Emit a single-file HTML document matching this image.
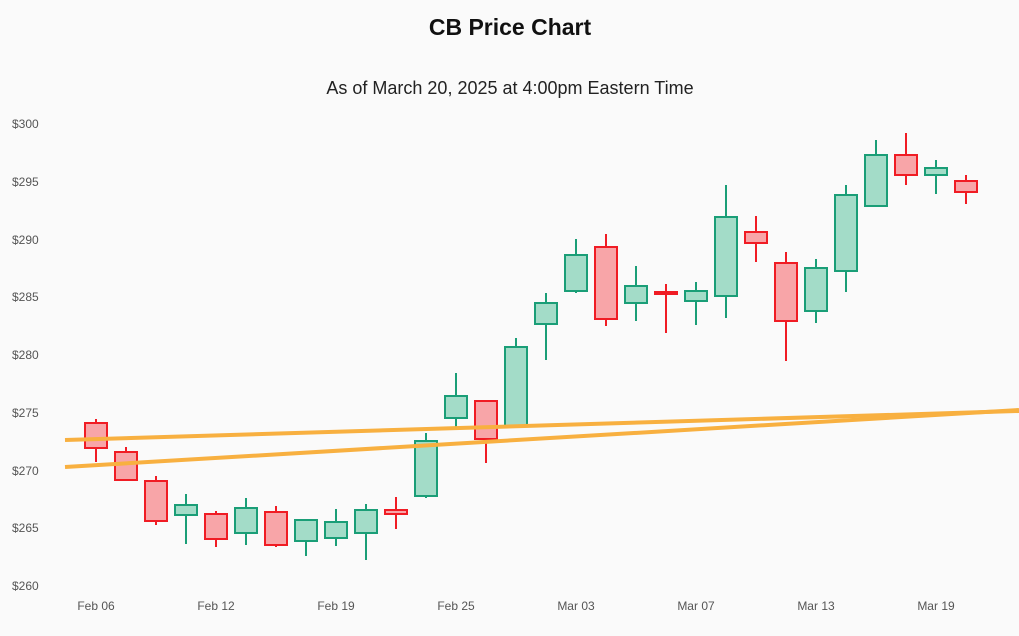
<!DOCTYPE html>
<html><head><style>
body{margin:0;background:#fafafa;}
svg{display:block;font-family:"Liberation Sans",sans-serif;}
</style></head><body>
<svg width="1019" height="636" viewBox="0 0 1019 636" xmlns="http://www.w3.org/2000/svg">
<rect width="1019" height="636" fill="#fafafa"/>
<text x="510" y="35" text-anchor="middle" font-size="23" font-weight="bold" fill="#111">CB Price Chart</text>
<text x="510" y="94" text-anchor="middle" font-size="18" fill="#222">As of March 20, 2025 at 4:00pm Eastern Time</text>
<g font-size="12" fill="#555">
<text x="12" y="128">$300</text><text x="12" y="186">$295</text><text x="12" y="244">$290</text><text x="12" y="301">$285</text><text x="12" y="359">$280</text>
<text x="12" y="417">$275</text><text x="12" y="475">$270</text><text x="12" y="532">$265</text><text x="12" y="590">$260</text>
</g>
<g font-size="12" fill="#555" text-anchor="middle">
<text x="96" y="610">Feb 06</text><text x="216" y="610">Feb 12</text><text x="336" y="610">Feb 19</text><text x="456" y="610">Feb 25</text>
<text x="576" y="610">Mar 03</text><text x="696" y="610">Mar 07</text><text x="816" y="610">Mar 13</text><text x="936" y="610">Mar 19</text>
</g>
<g stroke-width="2">
<g stroke="#f01c24" fill="#f8a5a8">
<line x1="96" x2="96" y1="419" y2="462"/><rect x="85" y="423" width="22" height="25"/>
<line x1="126" x2="126" y1="447" y2="480"/><rect x="115" y="452" width="22" height="28"/>
<line x1="156" x2="156" y1="476" y2="525"/><rect x="145" y="481" width="22" height="40"/>
<line x1="216" x2="216" y1="511" y2="547"/><rect x="205" y="514" width="22" height="25"/>
<line x1="276" x2="276" y1="506" y2="547"/><rect x="265" y="512" width="22" height="33"/>
<line x1="396" x2="396" y1="497" y2="529"/><rect x="385" y="510" width="22" height="4"/>
<line x1="486" x2="486" y1="401" y2="463"/><rect x="475" y="401" width="22" height="38"/>
<line x1="606" x2="606" y1="234" y2="326"/><rect x="595" y="247" width="22" height="72"/>
<line x1="666" x2="666" y1="284" y2="333"/><rect x="655" y="292" width="22" height="2"/>
<line x1="756" x2="756" y1="216" y2="262"/><rect x="745" y="232" width="22" height="11"/>
<line x1="786" x2="786" y1="252" y2="361"/><rect x="775" y="263" width="22" height="58"/>
<line x1="906" x2="906" y1="133" y2="185"/><rect x="895" y="155" width="22" height="20"/>
<line x1="966" x2="966" y1="175" y2="204"/><rect x="955" y="181" width="22" height="11"/>
</g>
<g stroke="#1a9e77" fill="#a3dcc8">
<line x1="186" x2="186" y1="494" y2="544"/><rect x="175" y="505" width="22" height="10"/>
<line x1="246" x2="246" y1="498" y2="545"/><rect x="235" y="508" width="22" height="25"/>
<line x1="306" x2="306" y1="519" y2="556"/><rect x="295" y="520" width="22" height="21"/>
<line x1="336" x2="336" y1="509" y2="546"/><rect x="325" y="522" width="22" height="16"/>
<line x1="366" x2="366" y1="504" y2="560"/><rect x="355" y="510" width="22" height="23"/>
<line x1="426" x2="426" y1="433" y2="498"/><rect x="415" y="441" width="22" height="55"/>
<line x1="456" x2="456" y1="373" y2="427"/><rect x="445" y="396" width="22" height="22"/>
<line x1="516" x2="516" y1="338" y2="426"/><rect x="505" y="347" width="22" height="79"/>
<line x1="546" x2="546" y1="293" y2="360"/><rect x="535" y="303" width="22" height="21"/>
<line x1="576" x2="576" y1="239" y2="293"/><rect x="565" y="255" width="22" height="36"/>
<line x1="636" x2="636" y1="266" y2="321"/><rect x="625" y="286" width="22" height="17"/>
<line x1="696" x2="696" y1="282" y2="325"/><rect x="685" y="291" width="22" height="10"/>
<line x1="726" x2="726" y1="185" y2="318"/><rect x="715" y="217" width="22" height="79"/>
<line x1="816" x2="816" y1="259" y2="323"/><rect x="805" y="268" width="22" height="43"/>
<line x1="846" x2="846" y1="185" y2="292"/><rect x="835" y="195" width="22" height="76"/>
<line x1="876" x2="876" y1="140" y2="206"/><rect x="865" y="155" width="22" height="51"/>
<line x1="936" x2="936" y1="160" y2="194"/><rect x="925" y="168" width="22" height="7"/>
</g>
</g>
<line x1="65" y1="440" x2="1019" y2="411" stroke="#f8b040" stroke-width="4"/>
<line x1="65" y1="467" x2="1019" y2="410" stroke="#f8b040" stroke-width="4"/>
</svg>
</body></html>
